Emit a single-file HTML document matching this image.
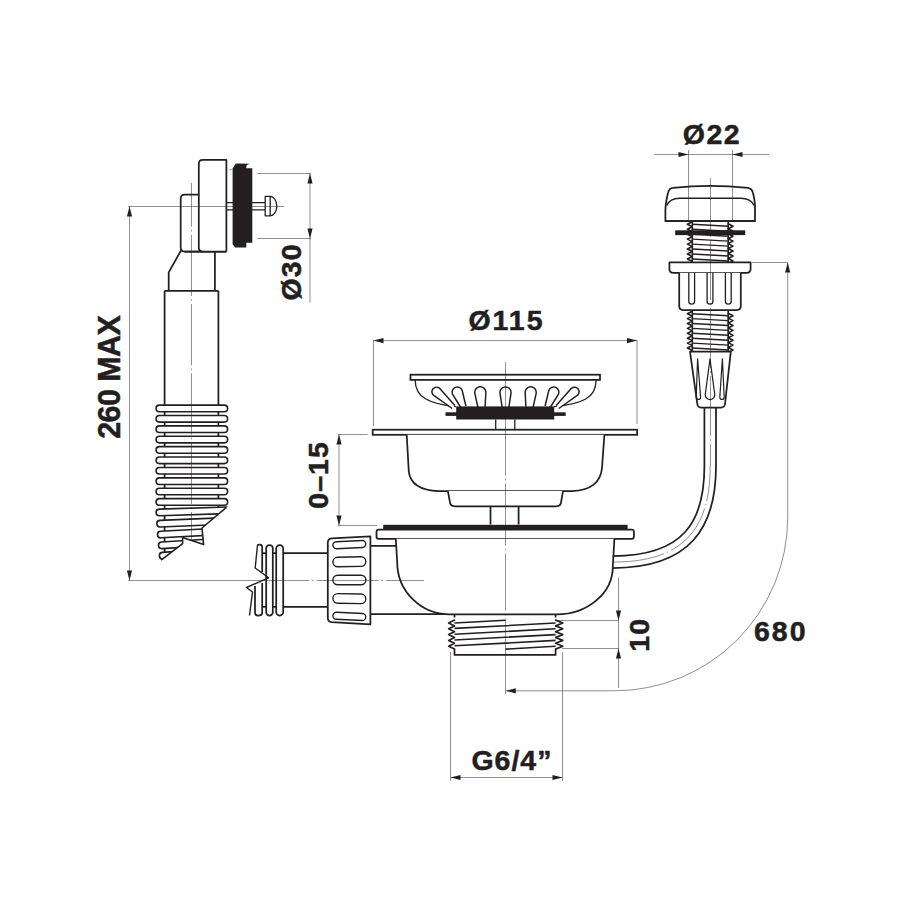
<!DOCTYPE html>
<html><head><meta charset="utf-8"><style>
html,body{margin:0;padding:0;background:#fff;width:900px;height:900px;overflow:hidden}
svg{display:block}
text{font-family:"Liberation Sans",sans-serif;font-weight:bold;fill:#231f20;stroke:#231f20;stroke-width:0.5px}
</style></head><body>
<svg width="900" height="900" viewBox="0 0 900 900">
<rect width="900" height="900" fill="#fff"/>
<path d="M164.6,290.8 V556" fill="none" stroke="#231f20" stroke-width="1.75" stroke-linejoin="round" />
<path d="M218.4,290.8 V510" fill="none" stroke="#231f20" stroke-width="1.75" stroke-linejoin="round" />
<path d="M164.6,290.8 H218.4" fill="none" stroke="#231f20" stroke-width="1.75" stroke-linejoin="round" />
<path d="M181,250.5 L168.7,272.4 V290.8 M214.9,251.6 V290.8" fill="none" stroke="#231f20" stroke-width="1.75" stroke-linejoin="round" />
<path d="M198.8,194.5 H184.7 Q180.7,194.5 180.7,198.5 V247.6 Q180.7,251.6 184.7,251.6 H226.4" fill="#fff" stroke="#231f20" stroke-width="1.75" stroke-linejoin="round" />
<path d="M202.8,251.6 Q198.8,251.6 198.8,247.6 V163.9 Q198.8,159.9 202.8,159.9 H226.4 V251.6" fill="#fff" stroke="#231f20" stroke-width="1.75" stroke-linejoin="round" />
<path d="M184.7,251.6 H226.4" fill="none" stroke="#231f20" stroke-width="1.75" stroke-linejoin="round" />
<path d="M226.4,202.6 H233 M226.4,209.8 H233" fill="none" stroke="#231f20" stroke-width="1.20" stroke-linejoin="round" />
<path d="M252,202.6 H265 M252,209.8 H265" fill="none" stroke="#231f20" stroke-width="1.20" stroke-linejoin="round" />
<polygon points="229.4,169.8 232.6,168.4 235.8,163.6 249.8,163.8 246.6,165.3 246.3,168.2 252.3,168.2 252.3,242.8 246.3,242.8 246.3,247.6 235.2,247.6 232.6,244.2 232.6,168.4 230.5,169.9" fill="#231f20"/>
<path d="M265.2,196.4 H270.2 A6.6,9.7 0 0 1 270.2,215.8 H265.2 Z M270.2,196.4 V215.8" fill="#fff" stroke="#231f20" stroke-width="1.30" stroke-linejoin="round" />
<line x1="257.20" y1="173.50" x2="311.00" y2="173.50" stroke="#231f20" stroke-width="0.50" />
<line x1="257.20" y1="238.50" x2="311.00" y2="238.50" stroke="#231f20" stroke-width="0.50" />
<line x1="310.00" y1="173.50" x2="310.00" y2="302.70" stroke="#231f20" stroke-width="0.50" />
<polygon points="310.00,173.50 307.40,183.50 312.60,183.50" fill="#231f20"/>
<polygon points="310.00,238.50 307.40,228.50 312.60,228.50" fill="#231f20"/>
<rect x="156.1" y="405.10" width="71.5" height="6.60" rx="3.30" fill="#fff" stroke="#231f20" stroke-width="1.60"/>
<rect x="156.1" y="415.49" width="71.5" height="6.60" rx="3.30" fill="#fff" stroke="#231f20" stroke-width="1.60"/>
<rect x="156.1" y="425.88" width="71.5" height="6.60" rx="3.30" fill="#fff" stroke="#231f20" stroke-width="1.60"/>
<rect x="156.1" y="436.27" width="71.5" height="6.60" rx="3.30" fill="#fff" stroke="#231f20" stroke-width="1.60"/>
<rect x="156.1" y="446.66" width="71.5" height="6.60" rx="3.30" fill="#fff" stroke="#231f20" stroke-width="1.60"/>
<rect x="156.1" y="457.05" width="71.5" height="6.60" rx="3.30" fill="#fff" stroke="#231f20" stroke-width="1.60"/>
<rect x="156.1" y="467.44" width="71.5" height="6.60" rx="3.30" fill="#fff" stroke="#231f20" stroke-width="1.60"/>
<rect x="156.1" y="477.83" width="71.5" height="6.60" rx="3.30" fill="#fff" stroke="#231f20" stroke-width="1.60"/>
<rect x="156.1" y="488.22" width="71.5" height="6.60" rx="3.30" fill="#fff" stroke="#231f20" stroke-width="1.60"/>
<rect x="156.1" y="498.61" width="71.5" height="6.60" rx="3.30" fill="#fff" stroke="#231f20" stroke-width="1.60"/>
<clipPath id="cut"><polygon points="140,506 228,506 226.5,507.3 202,528 203.6,544.6 182.6,537.5 182.6,543.6 161.1,560.2 140,560.2"/></clipPath>
<g clip-path="url(#cut)">
<rect x="156.10" y="509.20" width="90" height="6.60" rx="3.3" fill="#fff" stroke="#231f20" stroke-width="1.60" transform="rotate(-1.80 156.10 512.50)"/>
<rect x="156.80" y="520.50" width="90" height="6.60" rx="3.3" fill="#fff" stroke="#231f20" stroke-width="1.60" transform="rotate(-2.40 156.80 523.80)"/>
<rect x="157.50" y="531.40" width="90" height="6.60" rx="3.3" fill="#fff" stroke="#231f20" stroke-width="1.60" transform="rotate(-3.00 157.50 534.70)"/>
<rect x="158.50" y="542.20" width="90" height="6.60" rx="3.3" fill="#fff" stroke="#231f20" stroke-width="1.60" transform="rotate(-3.60 158.50 545.50)"/>
<rect x="159.40" y="552.60" width="90" height="6.60" rx="3.3" fill="#fff" stroke="#231f20" stroke-width="1.60" transform="rotate(-4.20 159.40 555.90)"/>
</g>
<path d="M226.5,507.3 L202,528 L203.6,544.6 L182.6,537.5 L182.6,543.6 L161.1,560.2" fill="none" stroke="#231f20" stroke-width="1.60" stroke-linejoin="round" />
<line x1="129.50" y1="206.50" x2="129.50" y2="580.00" stroke="#231f20" stroke-width="0.50" />
<polygon points="129.50,206.50 126.90,216.50 132.10,216.50" fill="#231f20"/>
<polygon points="129.50,580.50 126.90,570.50 132.10,570.50" fill="#231f20"/>
<line x1="128.00" y1="580.50" x2="260.00" y2="580.50" stroke="#231f20" stroke-width="0.50" />
<path d="M262,553.2 H327.8 M262,606.8 H327.8" fill="none" stroke="#231f20" stroke-width="1.75" stroke-linejoin="round" />
<rect x="266.2" y="545" width="6.6" height="70.5" rx="3.3" fill="#fff" stroke="#231f20" stroke-width="1.75"/>
<rect x="276.2" y="545" width="7" height="70.5" rx="3.4" fill="#fff" stroke="#231f20" stroke-width="1.75"/>
<path d="M257.5,545 Q258,544.6 259.2,544.6 H260 Q262.2,544.6 262.2,547.5 V572" fill="none" stroke="#231f20" stroke-width="1.75" stroke-linejoin="round" />
<path d="M262.2,583 V612.8 Q262.2,615.5 259,615.5 H258 Q255,615.5 255,612.5 V586" fill="none" stroke="#231f20" stroke-width="1.75" stroke-linejoin="round" />
<path d="M257.5,545 L255.2,568 L268.5,577.8 L246.5,587.5 L252.5,592 L249.5,615.5" fill="none" stroke="#231f20" stroke-width="1.40" stroke-linejoin="round" />
<path d="M331.8,538.4 Q327.8,538.6 327.8,542.6 V618 Q327.8,621.8 331.8,622.2 L370.4,624.4 V536.4 Z" fill="#fff" stroke="#231f20" stroke-width="1.75" stroke-linejoin="round" />
<rect x="332.9" y="541.10" width="32.9" height="7.00" rx="3.50" fill="#fff" stroke="#231f20" stroke-width="1.4" transform="rotate(-2.64 349.3 544.60)"/>
<rect x="332.9" y="557.00" width="32.9" height="9.60" rx="4.80" fill="#fff" stroke="#231f20" stroke-width="1.4" transform="rotate(-1.10 349.3 561.80)"/>
<rect x="332.9" y="575.20" width="32.9" height="9.60" rx="4.80" fill="#fff" stroke="#231f20" stroke-width="1.4" transform="rotate(0.00 349.3 580.00)"/>
<rect x="332.9" y="593.80" width="32.9" height="9.60" rx="4.80" fill="#fff" stroke="#231f20" stroke-width="1.4" transform="rotate(1.10 349.3 598.60)"/>
<rect x="332.9" y="612.90" width="32.9" height="7.00" rx="3.50" fill="#fff" stroke="#231f20" stroke-width="1.4" transform="rotate(2.64 349.3 616.40)"/>
<path d="M370.4,545.8 H396 M370.4,614 H447.8" fill="none" stroke="#231f20" stroke-width="1.75" stroke-linejoin="round" />
<line x1="373.50" y1="340.60" x2="637.00" y2="340.60" stroke="#231f20" stroke-width="0.50" />
<polygon points="373.50,340.60 383.50,338.00 383.50,343.20" fill="#231f20"/>
<polygon points="637.00,340.60 627.00,338.00 627.00,343.20" fill="#231f20"/>
<line x1="373.50" y1="340.00" x2="373.50" y2="426.00" stroke="#231f20" stroke-width="0.50" />
<line x1="637.00" y1="340.00" x2="637.00" y2="424.00" stroke="#231f20" stroke-width="0.50" />
<path d="M415.2,379.8 C415,398 430,404 456,406.7 M596,379.8 C596.5,398 582,404 554,406.7" fill="none" stroke="#231f20" stroke-width="1.30" stroke-linejoin="round" />
<rect x="410.5" y="374.7" width="189.5" height="5.2" fill="#fff" stroke="#231f20" stroke-width="1.75"/>
<path d="M454.83,405.51 L439.57,388.37 A4.60,4.60 0 1 0 433.43,395.23 L452.17,408.49" fill="#fff" stroke="#231f20" stroke-width="1.50" stroke-linejoin="round" />
<path d="M465.90,406.00 L462.10,390.19 A5.20,5.20 0 1 0 452.50,394.21 L461.10,408.00" fill="#fff" stroke="#231f20" stroke-width="1.50" stroke-linejoin="round" />
<path d="M485.09,406.70 L485.88,392.04 A5.60,5.60 0 1 0 474.72,392.96 L477.91,407.30" fill="#fff" stroke="#231f20" stroke-width="1.50" stroke-linejoin="round" />
<path d="M508.90,407.00 L511.10,392.50 A5.60,5.60 0 1 0 499.90,392.50 L502.10,407.00" fill="#fff" stroke="#231f20" stroke-width="1.50" stroke-linejoin="round" />
<path d="M533.09,407.30 L536.28,392.96 A5.60,5.60 0 1 0 525.12,392.04 L525.91,406.70" fill="#fff" stroke="#231f20" stroke-width="1.50" stroke-linejoin="round" />
<path d="M549.90,408.00 L558.50,394.21 A5.20,5.20 0 1 0 548.90,390.19 L545.10,406.00" fill="#fff" stroke="#231f20" stroke-width="1.50" stroke-linejoin="round" />
<path d="M558.83,408.49 L577.57,395.23 A4.60,4.60 0 1 0 571.43,388.37 L556.17,405.51" fill="#fff" stroke="#231f20" stroke-width="1.50" stroke-linejoin="round" />
<rect x="445.5" y="412.3" width="120.2" height="3.6" fill="#231f20"/>
<rect x="456.2" y="406.4" width="98" height="13.1" fill="#231f20"/>
<path d="M495.7,419.5 V429.5 M514.8,419.5 V429.5" fill="none" stroke="#231f20" stroke-width="1.30" stroke-linejoin="round" />
<rect x="372.7" y="429.7" width="264.4" height="5.1" fill="#fff" stroke="#231f20" stroke-width="1.75"/>
<path d="M406.7,434.8 L408.8,471.6 Q411,490 438.7,491.1 H572 Q600,490 602,468 L604.4,434.8" fill="#fff" stroke="#231f20" stroke-width="1.75" stroke-linejoin="round" />
<path d="M447.9,491.1 L450.2,503.6 Q451,506.3 454.7,506.3 H556.5 Q560,506.3 560.8,503.6 L563,491.1" fill="#fff" stroke="#231f20" stroke-width="1.75" stroke-linejoin="round" />
<path d="M490.5,506.3 V524.6 M518.6,506.3 V524.6" fill="none" stroke="#231f20" stroke-width="1.75" stroke-linejoin="round" />
<line x1="339.00" y1="434.50" x2="339.00" y2="525.50" stroke="#231f20" stroke-width="0.50" />
<polygon points="339.00,434.50 336.40,444.50 341.60,444.50" fill="#231f20"/>
<polygon points="339.00,525.50 336.40,515.50 341.60,515.50" fill="#231f20"/>
<line x1="338.00" y1="434.50" x2="367.60" y2="434.50" stroke="#231f20" stroke-width="0.50" />
<line x1="338.00" y1="525.50" x2="377.30" y2="525.50" stroke="#231f20" stroke-width="0.50" />
<rect x="383.2" y="524.8" width="244.4" height="5" fill="#231f20"/>
<path d="M378.6,529.7 H631.8 Q633.9,529.7 633.9,531.8 V536.8 Q633.9,538.8 631.8,538.8 H378.6 Q376.5,538.8 376.5,536.8 V531.8 Q376.5,529.7 378.6,529.7 Z" fill="#fff" stroke="#231f20" stroke-width="1.75" stroke-linejoin="round" />
<path d="M395.8,538.8 L397.2,562.2 A52.8,52.2 0 0 0 450,614.4 H556.7 A56.1,47.7 0 0 0 612.8,566.7 L614.4,538.8" fill="#fff" stroke="#231f20" stroke-width="1.75" stroke-linejoin="round" />
<path d="M454.5,614 V617.5 M555.6,614 V617.5 M454.5,649.5 V654.9 H555.6 V649.5" fill="none" stroke="#231f20" stroke-width="1.75" stroke-linejoin="round" />
<path d="M454.50,620.10 L448.70,623.00 L454.50,625.90 M454.50,625.90 L448.70,628.80 L454.50,631.70 M454.50,631.70 L448.70,634.60 L454.50,637.50 M454.50,637.50 L448.70,640.40 L454.50,643.30 M454.50,643.30 L448.70,646.20 L454.50,649.10" fill="none" stroke="#231f20" stroke-width="1.70" stroke-linejoin="round" stroke-linecap="round"/>
<path d="M555.60,620.10 L562.80,623.00 L555.60,625.90 M555.60,625.90 L562.80,628.80 L555.60,631.70 M555.60,631.70 L562.80,634.60 L555.60,637.50 M555.60,637.50 L562.80,640.40 L555.60,643.30 M555.60,643.30 L562.80,646.20 L555.60,649.10" fill="none" stroke="#231f20" stroke-width="1.70" stroke-linejoin="round" stroke-linecap="round"/>
<path d="M454.5,623 L505.5,620.2 M454.5,628.40 L555.6,623.00 M454.5,634.20 L555.6,628.80 M454.5,640.00 L555.6,634.60 M454.5,645.80 L555.6,640.40 M505.5,649.1 L555.6,646.2" fill="none" stroke="#231f20" stroke-width="1.60" stroke-linejoin="round" />
<line x1="618.50" y1="577.60" x2="618.50" y2="688.00" stroke="#231f20" stroke-width="0.50" />
<polygon points="618.50,620.50 615.90,610.50 621.10,610.50" fill="#231f20"/>
<polygon points="618.50,648.50 615.90,658.50 621.10,658.50" fill="#231f20"/>
<line x1="556.00" y1="620.50" x2="618.50" y2="620.50" stroke="#231f20" stroke-width="0.50" />
<line x1="562.00" y1="648.50" x2="618.50" y2="648.50" stroke="#231f20" stroke-width="0.50" />
<line x1="450.50" y1="652.00" x2="450.50" y2="781.00" stroke="#231f20" stroke-width="0.50" />
<line x1="562.50" y1="652.00" x2="562.50" y2="781.00" stroke="#231f20" stroke-width="0.50" />
<line x1="450.50" y1="777.50" x2="562.50" y2="777.50" stroke="#231f20" stroke-width="0.50" />
<polygon points="450.50,777.50 460.50,774.90 460.50,780.10" fill="#231f20"/>
<polygon points="562.50,777.50 552.50,774.90 552.50,780.10" fill="#231f20"/>
<path d="M505.8,690.8 H614.5 A173.2,173.2 0 0 0 787.7,517.7 V262.5" fill="none" stroke="#231f20" stroke-width="0.50" stroke-linejoin="round" />
<polygon points="505.80,690.80 515.80,688.20 515.80,693.40" fill="#231f20"/>
<polygon points="787.70,262.50 785.10,272.50 790.30,272.50" fill="#231f20"/>
<line x1="751.80" y1="262.50" x2="787.70" y2="262.50" stroke="#231f20" stroke-width="0.50" />
<path d="M704.4,408 V466 C704.4,521.4 684.1,556 612.8,556 M716,408 V466 C716,528 690,568 612.6,568" fill="none" stroke="#231f20" stroke-width="1.75" stroke-linejoin="round" />
<line x1="654.50" y1="154.50" x2="769.00" y2="154.50" stroke="#231f20" stroke-width="0.50" />
<polygon points="688.50,154.50 678.50,151.90 678.50,157.10" fill="#231f20"/>
<polygon points="732.50,154.50 742.50,151.90 742.50,157.10" fill="#231f20"/>
<line x1="688.50" y1="150.00" x2="688.50" y2="221.00" stroke="#231f20" stroke-width="0.50" />
<line x1="732.50" y1="150.00" x2="732.50" y2="221.00" stroke="#231f20" stroke-width="0.50" />
<path d="M665.4,221.2 V210 Q665.5,203 668,193 Q669,188 673,187.8 Q710,184 748,187.8 Q752,188.5 753,193 Q755.5,203 755,210 V221.2 Z" fill="none" stroke="#231f20" stroke-width="1.75" stroke-linejoin="round" />
<path d="M666.6,205.6 Q670,198.2 679.4,198.2 H740.6 Q751,198.2 754,205.6" fill="none" stroke="#231f20" stroke-width="1.40" stroke-linejoin="round" />
<path d="M665.4,221.2 H755" fill="none" stroke="#231f20" stroke-width="1.75" stroke-linejoin="round" />
<path d="M692.30,221.20 V262.40 M728.20,221.20 V262.40" fill="none" stroke="#231f20" stroke-width="1.60" stroke-linejoin="round" />
<path d="M692.30,221.83 L687.40,224.30 L692.30,226.78 M692.30,226.78 L687.40,229.25 L692.30,231.72 M692.30,231.73 L687.40,234.20 L692.30,236.68 M692.30,236.68 L687.40,239.15 L692.30,241.62 M692.30,241.63 L687.40,244.10 L692.30,246.58 M692.30,246.58 L687.40,249.05 L692.30,251.53 M692.30,251.53 L687.40,254.00 L692.30,256.48 M692.30,256.47 L687.40,258.95 L692.30,261.43" fill="none" stroke="#231f20" stroke-width="1.60" stroke-linejoin="round" stroke-linecap="round"/>
<path d="M728.20,223.83 L733.00,226.30 L728.20,228.78 M728.20,228.78 L733.00,231.25 L728.20,233.72 M728.20,233.73 L733.00,236.20 L728.20,238.68 M728.20,238.68 L733.00,241.15 L728.20,243.62 M728.20,243.63 L733.00,246.10 L728.20,248.58 M728.20,248.58 L733.00,251.05 L728.20,253.53 M728.20,253.53 L733.00,256.00 L728.20,258.48 M728.20,258.47 L733.00,260.95 L728.20,263.43" fill="none" stroke="#231f20" stroke-width="1.60" stroke-linejoin="round" stroke-linecap="round"/>
<path d="M692.30,224.30 L728.20,226.30 M692.30,229.25 L728.20,231.25 M692.30,234.20 L728.20,236.20 M692.30,239.15 L728.20,241.15 M692.30,244.10 L728.20,246.10 M692.30,249.05 L728.20,251.05 M692.30,254.00 L728.20,256.00 M692.30,258.95 L728.20,260.95" fill="none" stroke="#231f20" stroke-width="1.45" stroke-linejoin="round" />
<rect x="675.2" y="230.3" width="70" height="4.8" fill="#231f20"/>
<path d="M669.4,262.4 H750.6 V269 Q750.6,272.8 746.6,272.8 H673.4 Q669.4,272.8 669.4,269 Z" fill="#fff" stroke="#231f20" stroke-width="1.75" stroke-linejoin="round" />
<path d="M679.2,272.8 V306 Q679.2,310 683.2,310 H736.8 Q740.8,310 740.8,306 V272.8" fill="#fff" stroke="#231f20" stroke-width="1.75" stroke-linejoin="round" />
<path d="M688.80,272.8 V301.3 A2.9,2.9 0 0 0 694.60,301.3 V272.8" fill="none" stroke="#231f20" stroke-width="1.30" stroke-linejoin="round" />
<path d="M707.10,272.8 V301.3 A2.9,2.9 0 0 0 712.90,301.3 V272.8" fill="none" stroke="#231f20" stroke-width="1.30" stroke-linejoin="round" />
<path d="M725.40,272.8 V301.3 A2.9,2.9 0 0 0 731.20,301.3 V272.8" fill="none" stroke="#231f20" stroke-width="1.30" stroke-linejoin="round" />
<path d="M692.30,310.00 V351.70 M728.20,310.00 V351.70" fill="none" stroke="#231f20" stroke-width="1.60" stroke-linejoin="round" />
<path d="M692.30,311.25 L687.40,313.70 L692.30,316.15 M692.30,316.15 L687.40,318.60 L692.30,321.05 M692.30,321.05 L687.40,323.50 L692.30,325.95 M692.30,325.95 L687.40,328.40 L692.30,330.85 M692.30,330.85 L687.40,333.30 L692.30,335.75 M692.30,335.75 L687.40,338.20 L692.30,340.65 M692.30,340.65 L687.40,343.10 L692.30,345.55 M692.30,345.55 L687.40,348.00 L692.30,350.45" fill="none" stroke="#231f20" stroke-width="1.60" stroke-linejoin="round" stroke-linecap="round"/>
<path d="M728.20,313.25 L733.00,315.70 L728.20,318.15 M728.20,318.15 L733.00,320.60 L728.20,323.05 M728.20,323.05 L733.00,325.50 L728.20,327.95 M728.20,327.95 L733.00,330.40 L728.20,332.85 M728.20,332.85 L733.00,335.30 L728.20,337.75 M728.20,337.75 L733.00,340.20 L728.20,342.65 M728.20,342.65 L733.00,345.10 L728.20,347.55 M728.20,347.55 L733.00,350.00 L728.20,352.45" fill="none" stroke="#231f20" stroke-width="1.60" stroke-linejoin="round" stroke-linecap="round"/>
<path d="M692.30,313.70 L728.20,315.70 M692.30,318.60 L728.20,320.60 M692.30,323.50 L728.20,325.50 M692.30,328.40 L728.20,330.40 M692.30,333.30 L728.20,335.30 M692.30,338.20 L728.20,340.20 M692.30,343.10 L728.20,345.10 M692.30,348.00 L728.20,350.00" fill="none" stroke="#231f20" stroke-width="1.45" stroke-linejoin="round" />
<path d="M690,351.7 H730.8 L725,404 Q724.5,407.5 721,407.5 H701 Q697.8,407.5 697.3,404 Z" fill="#fff" stroke="#231f20" stroke-width="1.75" stroke-linejoin="round" />
<path d="M697.6,358.8 L700.6,397.2 A2.2,2.2 0 0 1 696.2,397.2 Z" fill="none" stroke="#231f20" stroke-width="1.20" stroke-linejoin="round" />
<path d="M710,358.8 L714.8,394.8 A4.8,4.8 0 0 1 705.2,394.8 Z" fill="none" stroke="#231f20" stroke-width="1.20" stroke-linejoin="round" />
<path d="M722.4,358.8 L724.2,397.2 A2.2,2.2 0 0 1 719.8,397.2 Z" fill="none" stroke="#231f20" stroke-width="1.20" stroke-linejoin="round" />
<path d="M191.50,183.00 V226.70 M191.50,229.90 V231.50 M191.50,234.70 V296.00 M191.50,299.20 V300.80 M191.50,304.00 V365.30 M191.50,368.50 V370.10 M191.50,373.30 V434.60 M191.50,437.80 V439.40 M191.50,442.60 V504.00 M191.50,507.20 V508.80 M191.50,512.00 V539.00" stroke="#231f20" stroke-width="0.50" fill="none"/>
<line x1="128.00" y1="206.50" x2="284.00" y2="206.50" stroke="#231f20" stroke-width="0.50" />
<path d="M260.00,580.50 H308.90 M312.10,580.50 H313.70 M316.90,580.50 H378.20 M381.40,580.50 H383.00 M386.20,580.50 H424.00" stroke="#231f20" stroke-width="0.50" fill="none"/>
<path d="M505.50,362.00 V475.50 M505.50,478.70 V480.30 M505.50,483.50 V545.60 M505.50,548.80 V550.40 M505.50,553.60 V610.50 M505.50,613.70 V615.30 M505.50,618.50 V694.00" stroke="#231f20" stroke-width="0.50" fill="none"/>
<path d="M710.50,178.00 V232.00 M710.50,235.20 V236.80 M710.50,240.00 V300.00 M710.50,303.20 V304.80 M710.50,308.00 V368.00 M710.50,371.20 V372.80 M710.50,376.00 V436.00 M710.50,439.20 V440.80 M710.50,444.00 V466.00" stroke="#231f20" stroke-width="0.50" fill="none"/>
<path d="M710.2,466 C710.2,524.7 687,562 614,562" fill="none" stroke="#231f20" stroke-width="0.50" stroke-linejoin="round" stroke-dasharray="55 3.2 1.6 3.2" stroke-dashoffset="20"/>
<text transform="translate(120.10 377.00) rotate(-90)" x="0" y="0" text-anchor="middle" font-size="30.50" textLength="123.50" lengthAdjust="spacing">260 MAX</text>
<text transform="translate(301.30 272.50) rotate(-90)" x="0" y="0" text-anchor="middle" font-size="28.50" textLength="56.00" lengthAdjust="spacing">Ø30</text>
<text transform="translate(328.40 475.50) rotate(-90)" x="0" y="0" text-anchor="middle" font-size="28.50" textLength="66.50" lengthAdjust="spacing">0–15</text>
<text transform="translate(649.00 635.30) rotate(-90)" x="0" y="0" text-anchor="middle" font-size="28.50" textLength="33.00" lengthAdjust="spacing">10</text>
<text x="505.50" y="330.00" text-anchor="middle" font-size="28.50" textLength="74.00" lengthAdjust="spacing">Ø115</text>
<text x="711.20" y="144.20" text-anchor="middle" font-size="28.50" textLength="57.00" lengthAdjust="spacing">Ø22</text>
<text x="779.80" y="640.70" text-anchor="middle" font-size="28.50" textLength="51.50" lengthAdjust="spacing">680</text>
<text x="511.40" y="770.00" text-anchor="middle" font-size="28.50" textLength="80.00" lengthAdjust="spacing">G6/4”</text>
</svg></body></html>
